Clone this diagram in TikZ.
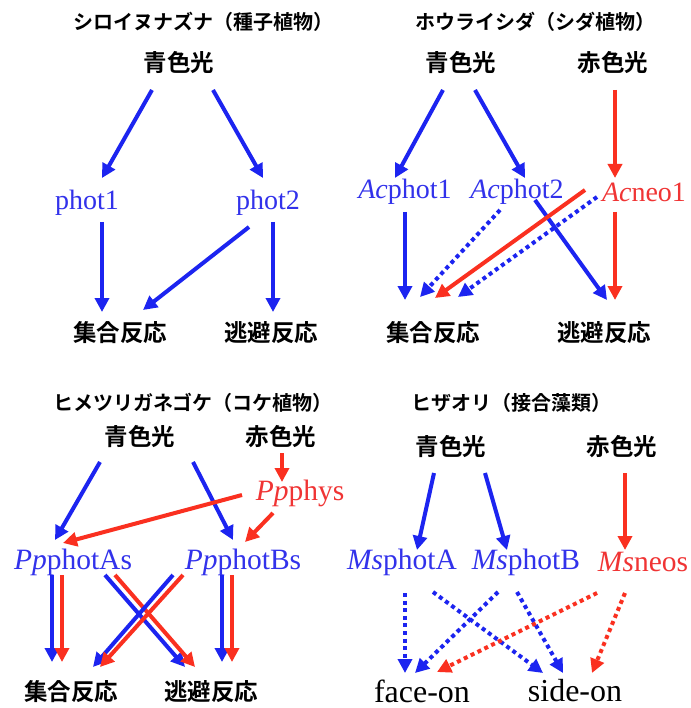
\documentclass[tikz,border=0pt]{standalone}
\usepackage{fontspec}
\setmainfont{Liberation Serif}
\newfontfamily\cjk{Noto Sans CJK JP Bold}
\usetikzlibrary{arrows.meta}
\definecolor{ab}{RGB}{28,36,240}
\definecolor{ar}{RGB}{250,48,32}
\definecolor{tb}{RGB}{50,50,235}
\definecolor{tr}{RGB}{240,52,52}
\tikzset{
  ttl/.style={inner sep=0pt, font=\cjk\fontsize{20}{22}\selectfont},
  lbl/.style={inner sep=0pt, font=\cjk\fontsize{23.5}{25}\selectfont},
  gb/.style={inner sep=0pt, text=tb, font=\fontsize{28}{30}\selectfont},
  gr/.style={inner sep=0pt, text=tr, font=\fontsize{28}{30}\selectfont},
  gb2/.style={gb, font=\fontsize{29.5}{31}\selectfont},
  gr2/.style={gr, font=\fontsize{29.5}{31}\selectfont},
  resp/.style={inner sep=0pt, font=\fontsize{32}{34}\selectfont},
  ba/.style={draw=ab, line width=4pt, -{Triangle[length=14pt,width=14pt]}},
  ra/.style={draw=ar, line width=4pt, -{Triangle[length=14pt,width=14pt]}},
  bd/.style={ba, dash pattern=on 4pt off 3.6pt},
  rd/.style={ra, dash pattern=on 4pt off 3.6pt},
}
\begin{document}
\begin{tikzpicture}[x=1pt,y=-1pt]
\fill[white] (0,0) rectangle (690,708);
\useasboundingbox (0,0) rectangle (690,708);
% ---------- top left ----------
\node[ttl] (T1) at (203,22) {シロイヌナズナ（種子植物）};
\node[lbl] (bl1) at (179,63) {青色光};
\node[gb] (p1) at (87,203) {phot1};
\node[gb] (p2) at (268,203) {phot2};
\node[lbl] (a1) at (120,333) {集合反応};
\node[lbl] (e1) at (271,333) {逃避反応};
\draw[ba] ([shift={(-27,27)}]bl1.center) -- ([shift={(15,-25)}]p1.center);
\draw[ba] ([shift={(34,27)}]bl1.center) -- ([shift={(-5,-25)}]p2.center);
\draw[ba] ([shift={(15,19)}]p1.center) -- ([shift={(-18,-21)}]a1.center);
\draw[ba] ([shift={(5,19)}]p2.center) -- ([shift={(2,-21)}]e1.center);
\draw[ba] ([shift={(-19,24)}]p2.center) -- ([shift={(23,-23)}]a1.center);
% ---------- top right ----------
\node[ttl] (T2) at (535,22) {ホウライシダ（シダ植物）};
\node[lbl] (bl2) at (461,63) {青色光};
\node[lbl] (rd2) at (613,63) {赤色光};
\node[gb] (q1) at (405,192) {\textit{Ac}phot1};
\node[gb] (q2) at (517,192) {\textit{Ac}phot2};
\node[gr] (q3) at (644,192) {\textit{Ac}neo1};
\node[lbl] (a2) at (433,333) {集合反応};
\node[lbl] (e2) at (604,333) {逃避反応};
\draw[ba] ([shift={(-18,27)}]bl2.center) -- ([shift={(-10,-14)}]q1.center);
\draw[ba] ([shift={(14,27)}]bl2.center) -- ([shift={(8,-14)}]q2.center);
\draw[ra] ([shift={(2,27)}]rd2.center) -- ([shift={(-29,-14)}]q3.center);
\draw[ba] ([shift={(0,20)}]q1.center) -- ([shift={(-28,-33)}]a2.center);
\draw[bd] ([shift={(-17,18)}]q2.center) -- ([shift={(-13,-36)}]a2.center);
\draw[ba] ([shift={(18,8)}]q2.center) -- ([shift={(3,-33)}]e2.center);
\draw[bd] ([shift={(-47,5)}]q3.center) -- ([shift={(25,-36)}]a2.center);
\draw[ra] ([shift={(-59,-2)}]q3.center) -- ([shift={(2,-35)}]a2.center);
\draw[ra] ([shift={(-29,20)}]q3.center) -- ([shift={(11,-33)}]e2.center);
% ---------- bottom left ----------
\node[ttl] (T3) at (193,403) {ヒメツリガネゴケ（コケ植物）};
\node[lbl] (bl3) at (140,437) {青色光};
\node[lbl] (rd3) at (281,437) {赤色光};
\node[gr2] (ph) at (300,493) {\textit{Pp}phys};
\node[gb2] (pa) at (73,562) {\textit{Pp}photAs};
\node[gb2] (pb) at (243,562) {\textit{Pp}photBs};
\node[lbl] (a3) at (71,692) {集合反応};
\node[lbl] (e3) at (211,692) {逃避反応};
\draw[ba] ([shift={(-40,25)}]bl3.center) -- ([shift={(-18,-22)}]pa.center);
\draw[ba] ([shift={(53,25)}]bl3.center) -- ([shift={(-10,-22)}]pb.center);
\draw[ra] ([shift={(1,16)}]rd3.center) -- ([shift={(-18,-11)}]ph.center);
\draw[ra] ([shift={(-27,20)}]ph.center) -- ([shift={(2,-20)}]pb.center);
\draw[ra] ([shift={(-58,2)}]ph.center) -- ([shift={(-10,-19)}]pa.center);
\draw[ba] ([shift={(-21,13)}]pa.center) -- ([shift={(-19,-30)}]a3.center);
\draw[ra] ([shift={(-11,13)}]pa.center) -- ([shift={(-9,-30)}]a3.center);
\draw[ba] ([shift={(-21,13)}]pb.center) -- ([shift={(11,-30)}]e3.center);
\draw[ra] ([shift={(-11,13)}]pb.center) -- ([shift={(21,-30)}]e3.center);
\draw[ba] ([shift={(32,13)}]pa.center) -- ([shift={(-26,-25)}]e3.center);
\draw[ra] ([shift={(42,13)}]pa.center) -- ([shift={(-16,-25)}]e3.center);
\draw[ba] ([shift={(-70,13)}]pb.center) -- ([shift={(22,-25)}]a3.center);
\draw[ra] ([shift={(-60,13)}]pb.center) -- ([shift={(29,-25)}]a3.center);
% ---------- bottom right ----------
\node[ttl] (T4) at (511,403) {ヒザオリ（接合藻類）};
\node[lbl] (bl4) at (451,447) {青色光};
\node[lbl] (rd4) at (622,447) {赤色光};
\node[gb2] (ma) at (402,562) {\textit{Ms}photA};
\node[gb2] (mb) at (526,562) {\textit{Ms}photB};
\node[gr2] (mn) at (643,562) {\textit{Ms}neos};
\node[resp] (fo) at (422,691) {face-on};
\node[resp] (so) at (575,691) {side-on};
\draw[ba] ([shift={(-17,26)}]bl4.center) -- ([shift={(15,-12)}]ma.center);
\draw[ba] ([shift={(34,26)}]bl4.center) -- ([shift={(-19,-12)}]mb.center);
\draw[ra] ([shift={(3,26)}]rd4.center) -- ([shift={(-18,-12)}]mn.center);
\draw[bd] ([shift={(3,31)}]ma.center) -- ([shift={(-17,-18)}]fo.center);
\draw[bd] ([shift={(31,30)}]ma.center) -- ([shift={(-32,-18)}]so.center);
\draw[bd] ([shift={(-28,30)}]mb.center) -- ([shift={(-7,-18)}]fo.center);
\draw[bd] ([shift={(-9,30)}]mb.center) -- ([shift={(-12,-18)}]so.center);
\draw[rd] ([shift={(-46,31)}]mn.center) -- ([shift={(15,-19)}]fo.center);
\draw[rd] ([shift={(-18,31)}]mn.center) -- ([shift={(17,-18)}]so.center);
\end{tikzpicture}
\end{document}
